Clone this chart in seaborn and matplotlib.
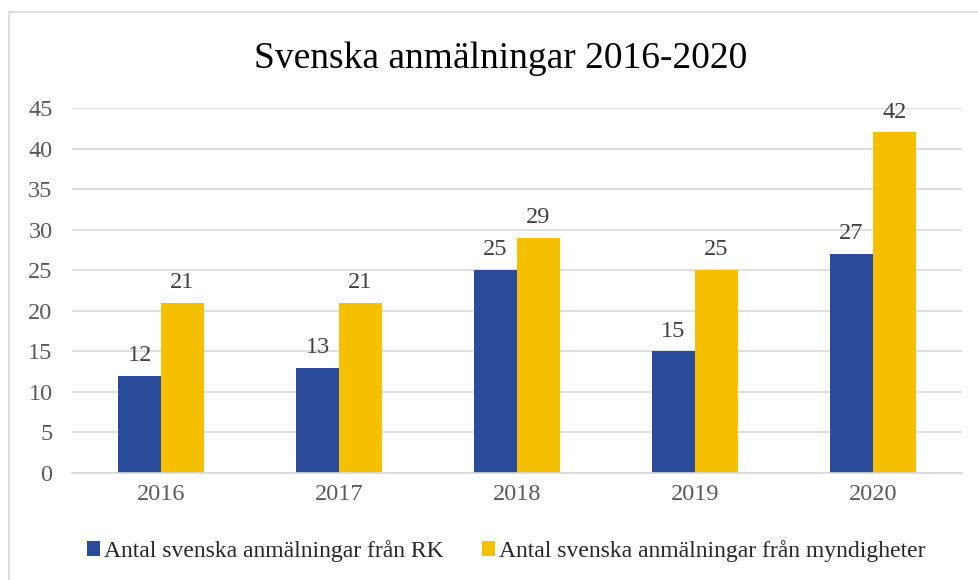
import numpy as np
import pandas as pd
from matplotlib import pyplot as plt
from matplotlib.patches import Rectangle
import seaborn as sns

# Data
years = ["2016", "2017", "2018", "2019", "2020"]
rk_values = [12, 13, 25, 15, 27]
myndighet_values = [21, 21, 29, 25, 42]
series_names = ["Antal svenska anmälningar från RK",
                "Antal svenska anmälningar från myndigheter"]

df = pd.DataFrame({
    "year": years * 2,
    "value": rk_values + myndighet_values,
    "series": [series_names[0]] * len(years) + [series_names[1]] * len(years),
})

sns.set_style("white")
plt.rcParams["font.family"] = ["Liberation Serif", "DejaVu Serif"]

fig = plt.figure(figsize=(9.79, 5.8), dpi=100)
ax = fig.add_axes([0.0735, 0.1845, 0.909, 0.6293])

palette = {series_names[0]: "#2A4A9A", series_names[1]: "#F5C000"}
sns.barplot(data=df, x="year", y="value", hue="series", palette=palette,
            width=0.48, saturation=1, linewidth=0, ax=ax, legend=True)

# value labels
for cont in ax.containers:
    ax.bar_label(cont, padding=7, fontsize=17.5, color="#404040")

ax.set_ylim(0, 45)
ax.set_yticks(range(0, 46, 5))
ax.yaxis.grid(True, color="#D9D9D9", linewidth=1.2)
ax.set_axisbelow(True)
for s in ["top", "right", "left"]:
    ax.spines[s].set_visible(False)
ax.spines["bottom"].set_color("#D9D9D9")
ax.spines["bottom"].set_linewidth(1.2)
ax.tick_params(axis="both", length=0, labelsize=17.5, labelcolor="#595959", pad=8)
ax.tick_params(axis="y", pad=14)
ax.set_xlabel("")
ax.set_ylabel("")

ax.set_title("Svenska anmälningar 2016-2020", fontsize=27, color="black",
             pad=29, x=0.482)

handles, labels = ax.get_legend_handles_labels()
ax.legend(handles, labels, loc="upper center", bbox_to_anchor=(0.488, -0.125),
          ncol=2, frameon=False, fontsize=17, handlelength=0.55, handleheight=0.55,
          handletextpad=0.2, columnspacing=1.6)

# outer chart border
fig.patches.append(Rectangle((9 / 979, -0.02), 1.0, (580 - 12) / 580 + 0.02,
                             transform=fig.transFigure, fill=False,
                             edgecolor="#D9D9D9", linewidth=1.2))

fig.savefig("out.png", dpi=100)
